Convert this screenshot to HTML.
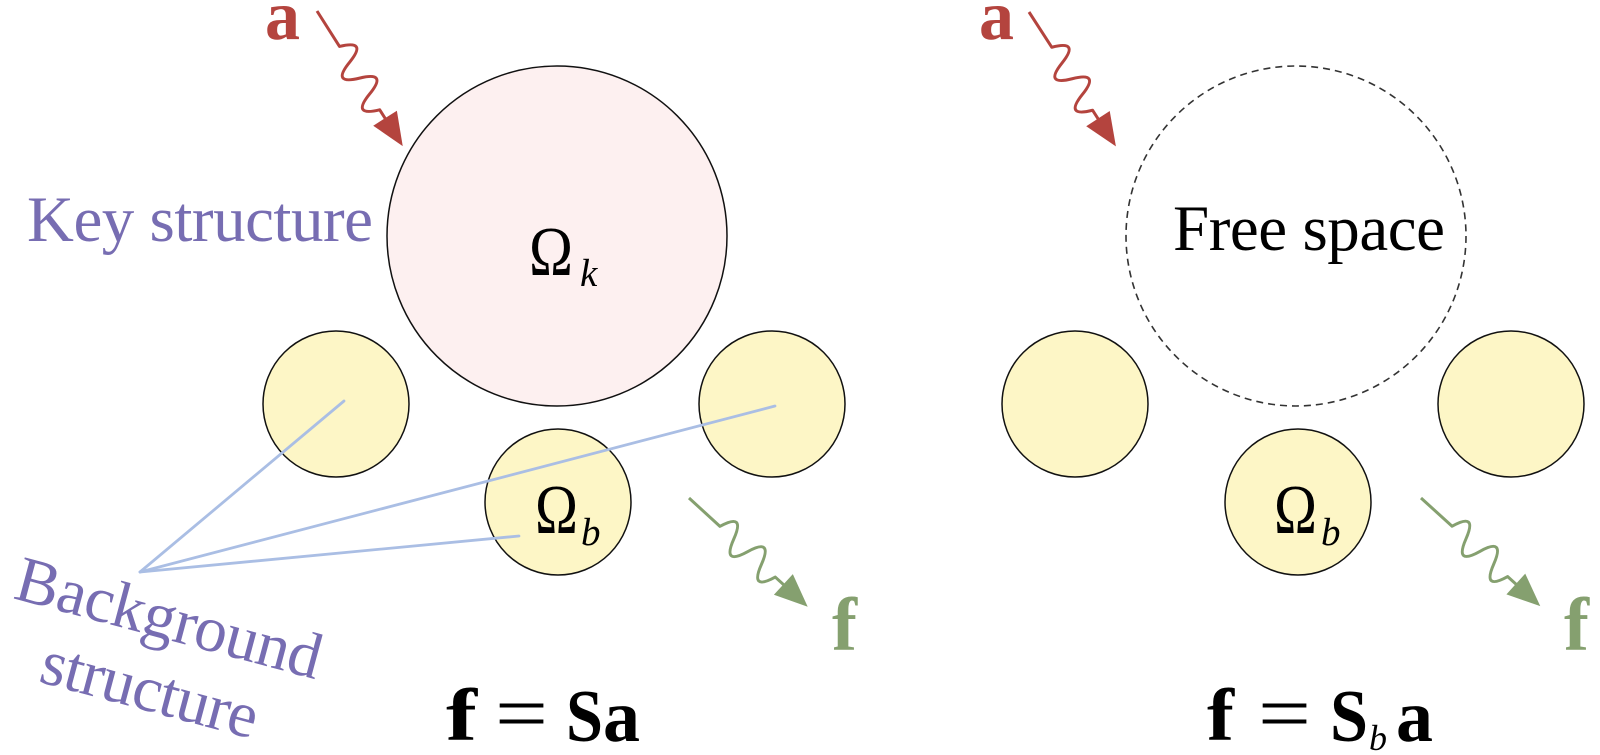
<!DOCTYPE html>
<html>
<head>
<meta charset="utf-8">
<style>
  html, body { margin:0; padding:0; background:#ffffff; }
  body { width:1600px; height:755px; overflow:hidden; }
  svg { display:block; }
  svg text { font-family: "Liberation Serif", "DejaVu Serif", serif !important; }
</style>
</head>
<body>
<svg width="1600" height="755" viewBox="0 0 1600 755" xmlns="http://www.w3.org/2000/svg" font-family="'Liberation Serif', 'DejaVu Serif', serif">
  <rect x="0" y="0" width="1600" height="755" fill="#ffffff"/>

  <!-- ================= LEFT PANEL ================= -->
  <circle cx="557" cy="236" r="170" fill="#fdf0f0" stroke="#111" stroke-width="1.5"/>
  <circle cx="336" cy="404" r="73" fill="#fdf6c6" stroke="#111" stroke-width="1.5"/>
  <circle cx="772" cy="404" r="73" fill="#fdf6c6" stroke="#111" stroke-width="1.5"/>
  <circle cx="558" cy="502" r="73" fill="#fdf6c6" stroke="#111" stroke-width="1.5"/>

  <g stroke="#aabee4" stroke-width="2.8" fill="none" stroke-linecap="round">
    <line x1="140" y1="572" x2="344" y2="401"/>
    <line x1="140" y1="572" x2="775" y2="406"/>
    <line x1="140" y1="572" x2="519" y2="536"/>
  </g>

  <text x="27" y="241" font-size="65" fill="#776db2" textLength="346" lengthAdjust="spacing">Key structure</text>
  <g transform="translate(12,598) rotate(15)" fill="#776db2" font-size="65">
    <text x="0" y="0" textLength="314" lengthAdjust="spacing">Background</text>
    <text x="46" y="74" textLength="222" lengthAdjust="spacing">structure</text>
  </g>

  <text x="529" y="275" font-size="70" fill="#000" textLength="44" lengthAdjust="spacingAndGlyphs">Ω</text>
  <text x="580" y="286" font-size="39" font-style="italic" fill="#000">k</text>
  <text x="535" y="533" font-size="70" fill="#000" textLength="43" lengthAdjust="spacingAndGlyphs">Ω</text>
  <text x="581" y="545" font-size="39" font-style="italic" fill="#000">b</text>

  <!-- red incident wave a -->
  <text x="265" y="39" font-size="70" font-weight="bold" fill="#b4443e">a</text>
  <g transform="translate(317,11) rotate(57.6)">
    <path d="M0,0 L42,0 Q51.4,-28 60.75,0 T79.5,0 T98.25,0 T117,0 L130,0" fill="none" stroke="#b4443e" stroke-width="3" stroke-linejoin="round"/>
    <polygon points="127,-14 160,0 127,14" fill="#b4443e"/>
  </g>

  <!-- green scattered wave f -->
  <g transform="translate(689,498) rotate(42.5)">
    <path d="M0,0 L42,0 Q51.4,-28 60.75,0 T79.5,0 T98.25,0 T117,0 L131,0" fill="none" stroke="#85a06f" stroke-width="3" stroke-linejoin="round"/>
    <polygon points="128,-14 161,0 128,14" fill="#85a06f"/>
  </g>
  <text x="832" y="650" font-size="75" font-weight="bold" fill="#85a06f">f</text>

  <!-- formula f = Sa -->
  <text x="446" y="740" font-size="74" font-weight="bold" fill="#000" textLength="31" lengthAdjust="spacingAndGlyphs">f</text>
  <text x="495" y="740" font-size="80" fill="#000" textLength="53" lengthAdjust="spacingAndGlyphs">=</text>
  <text x="566" y="741" font-size="74" font-weight="bold" fill="#000" textLength="37" lengthAdjust="spacingAndGlyphs">S</text>
  <text x="603" y="741" font-size="74" font-weight="bold" fill="#000" textLength="37" lengthAdjust="spacingAndGlyphs">a</text>

  <!-- ================= RIGHT PANEL ================= -->
  <circle cx="1296" cy="236" r="170" fill="#ffffff" stroke="#333" stroke-width="1.6" stroke-dasharray="7 5"/>
  <circle cx="1075" cy="404" r="73" fill="#fdf6c6" stroke="#111" stroke-width="1.5"/>
  <circle cx="1511" cy="404" r="73" fill="#fdf6c6" stroke="#111" stroke-width="1.5"/>
  <circle cx="1298" cy="502" r="73" fill="#fdf6c6" stroke="#111" stroke-width="1.5"/>

  <text x="1173" y="250" font-size="65" fill="#000" textLength="272" lengthAdjust="spacing">Free space</text>

  <text x="1274" y="533" font-size="70" fill="#000" textLength="43" lengthAdjust="spacingAndGlyphs">Ω</text>
  <text x="1321" y="545" font-size="39" font-style="italic" fill="#000">b</text>

  <text x="979" y="39" font-size="70" font-weight="bold" fill="#b4443e">a</text>
  <g transform="translate(1029,12) rotate(57.1)">
    <path d="M0,0 L42,0 Q51.4,-28 60.75,0 T79.5,0 T98.25,0 T117,0 L130,0" fill="none" stroke="#b4443e" stroke-width="3" stroke-linejoin="round"/>
    <polygon points="127,-14 160,0 127,14" fill="#b4443e"/>
  </g>

  <g transform="translate(1421,498) rotate(42.2)">
    <path d="M0,0 L42,0 Q51.4,-28 60.75,0 T79.5,0 T98.25,0 T117,0 L131,0" fill="none" stroke="#85a06f" stroke-width="3" stroke-linejoin="round"/>
    <polygon points="128,-14 161,0 128,14" fill="#85a06f"/>
  </g>
  <text x="1564" y="650" font-size="75" font-weight="bold" fill="#85a06f">f</text>

  <!-- formula f = S_b a -->
  <text x="1207" y="740" font-size="74" font-weight="bold" fill="#000" textLength="27" lengthAdjust="spacingAndGlyphs">f</text>
  <text x="1258" y="740" font-size="80" fill="#000" textLength="53" lengthAdjust="spacingAndGlyphs">=</text>
  <text x="1330" y="741" font-size="74" font-weight="bold" fill="#000" textLength="38" lengthAdjust="spacingAndGlyphs">S</text>
  <text x="1369" y="750" font-size="36" font-style="italic" fill="#000">b</text>
  <text x="1396" y="741" font-size="74" font-weight="bold" fill="#000" textLength="37" lengthAdjust="spacingAndGlyphs">a</text>
</svg>
</body>
</html>
